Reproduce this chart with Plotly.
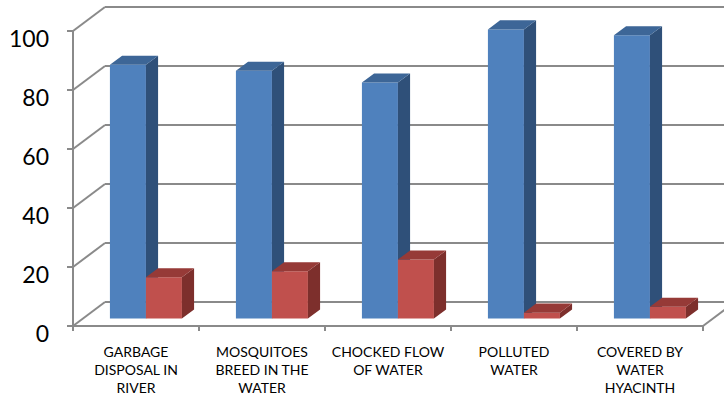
import plotly.graph_objects as go

# ---- data -------------------------------------------------------------
CATEGORIES = [
    "GARBAGE<br>DISPOSAL IN<br>RIVER",
    "MOSQUITOES<br>BREED IN THE<br>WATER",
    "CHOCKED FLOW<br>OF WATER",
    "POLLUTED<br>WATER",
    "COVERED BY<br>WATER<br>HYACINTH",
]
SERIES_1 = [86, 84, 80, 98, 96]
SERIES_2 = [14, 16, 20, 2, 4]
Y_TICKS = [0, 20, 40, 60, 80, 100]

# ---- oblique 3-D projection (in data units) ---------------------------
PX_PER_X = 126.0           # pixels per category
PX_PER_Y = 2.95            # pixels per value unit
DEPTH_X = 32 / PX_PER_X    # shift of the back wall, x
DEPTH_Y = 24 / PX_PER_Y    # shift of the back wall, y
BAR_D0, BAR_D1 = 0.31, 0.69  # bar depth span (fraction of wall depth)
BAR_W = 36 / PX_PER_X
N = len(CATEGORIES)

GRID = "#8a8a8a"
COLORS = {
    "s1": ("#4f81bd", "#2f5079", "#3d6697"),
    "s2": ("#c0504d", "#7d2f2c", "#963a37"),
}


def p(x, y, d):
    return x + d * DEPTH_X, y + d * DEPTH_Y


def faces(values, offset):
    front, side, top = ([], []), ([], []), ([], [])

    def add(buf, pts):
        for (x, y) in pts + [pts[0]]:
            buf[0].append(x)
            buf[1].append(y)
        buf[0].append(None)
        buf[1].append(None)

    for i, v in enumerate(values):
        x0 = i + 0.5 + offset
        x1 = x0 + BAR_W
        add(front, [p(x0, 0, BAR_D0), p(x1, 0, BAR_D0), p(x1, v, BAR_D0), p(x0, v, BAR_D0)])
        add(side, [p(x1, 0, BAR_D0), p(x1, 0, BAR_D1), p(x1, v, BAR_D1), p(x1, v, BAR_D0)])
        add(top, [p(x0, v, BAR_D0), p(x1, v, BAR_D0), p(x1, v, BAR_D1), p(x0, v, BAR_D1)])
    return front, side, top


fig = go.Figure()

# walls: back-wall gridlines, side-wall diagonals, floor edges, ticks
gx, gy = [], []


def seg(a, b):
    gx.extend([a[0], b[0], None])
    gy.extend([a[1], b[1], None])


for t in Y_TICKS:
    seg(p(0, t, 1), p(N, t, 1))
    seg(p(0, t, 0), p(0, t, 1))
    seg((0, t), (-6 / PX_PER_X, t))
seg((0, 0), (0, Y_TICKS[-1]))
seg((0, 0), (N, 0))
seg(p(N, 0, 0), p(N, 0, 1))
for i in range(N + 1):
    seg((i, 0), (i, -5 / PX_PER_Y))

fig.add_trace(go.Scatter(x=gx, y=gy, mode="lines",
                         line=dict(color=GRID, width=2),
                         hoverinfo="skip", showlegend=False))

for key, vals, off in (("s1", SERIES_1, -BAR_W), ("s2", SERIES_2, 0.0)):
    for buf, col in zip(faces(vals, off), COLORS[key]):
        fig.add_trace(go.Scatter(x=buf[0], y=buf[1], mode="lines",
                                 fill="toself", fillcolor=col,
                                 line=dict(width=0, color=col),
                                 hoverinfo="skip", showlegend=False))

W, H = 724, 401
ML, MB = 60, 65
fig.update_layout(
    width=W, height=H,
    margin=dict(l=ML, r=0, t=0, b=MB, pad=0),
    paper_bgcolor="white", plot_bgcolor="white",
    showlegend=False,
    xaxis=dict(
        range=[(ML - 73) / PX_PER_X, (W - 73) / PX_PER_X],
        tickvals=[i + 0.5 for i in range(N)],
        ticktext=CATEGORIES,
        ticks="", showgrid=False, zeroline=False, showline=False,
        tickfont=dict(family="Lato", size=14, color="black"),
        ticklabelstandoff=6,
    ),
    yaxis=dict(
        range=[(326 - (H - MB)) / PX_PER_Y, 326 / PX_PER_Y],
        tickvals=Y_TICKS,
        ticks="", showgrid=False, zeroline=False, showline=False,
        tickfont=dict(family="Lato", size=23, color="black"),
        ticklabelstandoff=10,
        ticklabelshift=8,
    ),
)

fig.write_html("out.html")
